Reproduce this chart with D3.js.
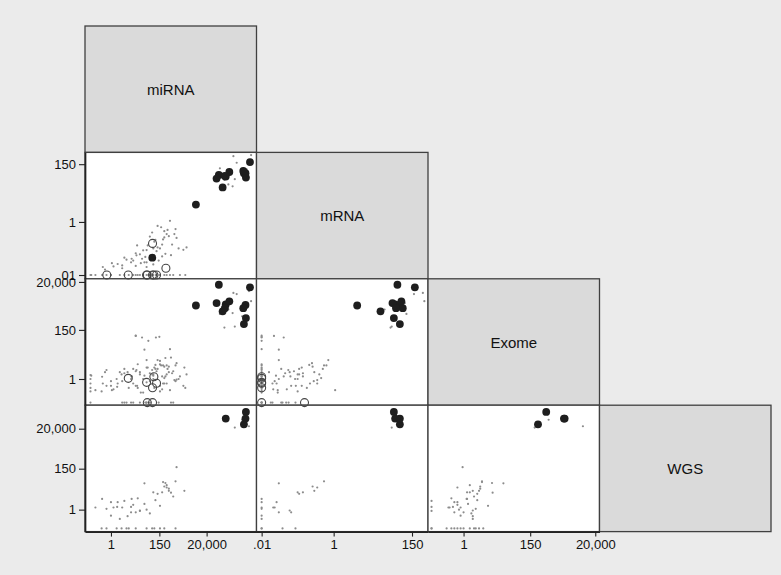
<!DOCTYPE html>
<html>
<head>
<meta charset="utf-8">
<script src="https://cdn.jsdelivr.net/npm/d3@7"></script>
<style>
  body { margin: 0; background: #ebebeb; }
  svg { display: block; font-family: "Liberation Sans", Arial, sans-serif; }
</style>
</head>
<body>
<div id="matrix"></div>
<script>
const width = 781, height = 575;
const margin = { left: 85, top: 26 };
const cellW = 171.5, cellH = 126.4;

const variables = ["miRNA", "mRNA", "Exome", "WGS"];
const domains = [[0.068, 3.5e6], [0.0072, 417], [0.069, 27500], [0.068, 355000]];
// zero counts are drawn at the bottom / left of each log axis
const zeroAt = [0.12, 0.01, 0.09, 0.1];
const tickValues = [[1, 150, 20000], [0.01, 1, 150], [1, 150, 20000], [1, 150, 20000]];

// each row: [miRNA, mRNA, Exome, WGS]; null = not measured, 0 = zero
const grayRows = [
  [2, 0.026, 0.63, 2.5], [1.3, 0.021, 0.35, 1.3], [3.2, 0.023, 0.8, 1.3], [8, 0.03, 1, 0.72],
  [20, 0.06, 2, 0.9], [13, 0.066, 0.5, 0.72], [80, 0.1, 1.6, 8.3], [125, 0.11, 2.8, 6.9],
  [200, 0.14, 1.3, 8.3], [250, 0.26, 3.5, 17], [400, 0.29, 2, 10], [320, 0.35, 0.63, 15],
  [800, 0.54, 4, 32], [32, 0.03, 20, 25], [5, 0.038, 0, 0], [40, 0.087, 0, 0],
  [0.4, 0, 1.26, 3.7], [1, 0, 0.5, 2.5], [105, 0, 69, null], [150, 0, 74, null],
  [13, 0, 83, null], [48, 0, 49, null], [450, 0, 21, null], [250, 0, 0.63, 0],
  [0.2, 0, 0.32, 1.3], [0.63, 0, 2.5, 1.1], [1, 0, 0.8, 0.48], [2.5, 0, 2, 0.32],
  [6.3, 0, 0.4, 0], [10, 0, 0, null], [20, 0, 1.6, null], [28, 0, 0.25, null],
  [40, 0, 3.2, null], [56, 0, 0, null], [80, 0, 1, null], [160, 0, 0.5, null],
  [320, 0, 4, null], [630, 0, 0, null], [1260, 0, 1.3, null], [2200, 0, 0.4, null],
  [16, 0, 4.5, null], [0.13, 0, 1.4, null], [4, 0, 2.8, null],
  [0.43, 0.02, 0.63, null], [0.54, 0.016, 2, null], [1.1, 0.028, 0.32, null], [8.5, 0.041, 1.3, null],
  [14, 0.055, 2.5, null], [15, 0.13, 0.5, null], [28, 0.085, 1, null], [35, 0.048, 0, null],
  [45, 0.13, 3.2, null], [56, 0.28, 0.8, null], [71, 0.4, 1.6, null], [89, 0.18, 0.4, null],
  [112, 0.079, 2.2, null], [140, 0.035, 0, null], [180, 0.63, 4, null], [220, 0.22, 0.63, null],
  [280, 0.063, 1.3, null], [350, 0.5, 2.8, null], [450, 1.1, 0.32, null], [560, 0.14, 1.8, null],
  [710, 0.35, 0.9, null], [890, 0.25, 5, null], [1100, 0.1, 1, null], [1800, 0.089, 0.5, null],
  [2500, 0.11, 1.6, null], [22, 0.028, 0.25, null], [40, 0.02, 0, null], [80, 0.025, 1.4, null],
  [125, 0.71, 6.9, null], [200, 0.05, 0.35, null], [13, 0.022, 81, null], [25, 0.041, 69, null],
  [40, 0.03, 6.9, null], [100, 0.21, 4.2, null], [3.2, 0.018, 0, null], [500, 0.056, 0, null],
  [160, 0.1, 0.28, null], [10, 0.035, 2.8, null], [250, 0.45, 1.1, null], [4, 0.045, 1.8, null],
  [0.38, null, 0.28, 0], [0.63, null, 0.5, 0], [1.8, null, 1, 0], [3, null, 1.6, 0],
  [13, null, 2.2, 0], [71, null, 2.5, 0], [89, null, 3.2, 0], [160, null, 4.4, 0],
  [800, null, 0.8, 0], [4, null, 0, 2.9], [8, null, 0, 1.4], [20, null, 0, 0.85],
  [1.9, null, 0.45, 1.4], [8.5, null, 1.3, 3.7], [32, null, 1.4, 2], [40, null, 0.71, 1],
  [56, null, 1.8, 0.63], [100, null, 2.8, 3.2], [220, null, 4, 29], [320, null, 1.6, 20],
  [890, null, 0.93, 180], [160, null, 6.3, 1.6], [500, null, 8.9, 8], [16, null, 0.4, 4],
  [5.6, null, 2, 0.45], [2000, null, 3.2, 10], [630, null, 2.2, 5], [400, null, 3.5, 13],
  [10, null, 0.63, 1.8], [280, null, 8.5, 26],
  [0, null, 1.5, null], [0, null, 1, null], [0, null, 0.63, null], [0, null, 0.4, null],
  [0, null, 0.28, null], [0, 0, 0, null],
  [320000, 300, 6500, null], [450000, 170, 5800, null], [1260000, 95, 2300, null],
  [295000, 22, 830, null], [190000, 26, 1200, null], [370000, 41, 210, 23000],
  [790000, null, 600, 60000], [1600000, null, 7900, 27000], [2000000, 330, 2800, null],
  [79000, 105, 760, null], [126000, 38, 190, null]
];

const filledRows = [
  [6600, 4.5, 1800, null], [1780000, 180, 11500, null], [71000, 59, 15000, null],
  [105000, 20, 1000, null], [1170000, 47, 500, 155000], [950000, 69, 270, 34000],
  [145000, 51, 2000, 69000], [1120000, 69, 1900, 69000], [56000, 43, 2300, null],
  [210000, 76, 2750, null], [890000, 83, 1380, null], [132000, 54, 1380, null],
  [72, 0.045, null, null]
];

const hollowRows = [
  [0.65, 0, null, null], [6, 0, 1.07, null], [40, 0, 0.71, null], [85, 0, 1.26, null],
  [112, 0, 0.65, null], [74, 0.155, 0, null], [295, 0.018, null, null], [43, 0, 0, null],
  [74, 0, 0.41, null]
];

const svg = d3.select("#matrix")
  .append("svg")
    .attr("width", width)
    .attr("height", height);

svg.append("rect")
  .attr("width", width)
  .attr("height", height)
  .attr("fill", "#ebebeb");

const xScales = domains.map((d, i) => d3.scaleLog()
  .domain(d)
  .range([margin.left + i * cellW, margin.left + (i + 1) * cellW]));
const yScales = domains.map((d, i) => d3.scaleLog()
  .domain(d)
  .range([margin.top + (i + 1) * cellH, margin.top + i * cellH]));

const val = (v, i) => v === 0 ? zeroAt[i] : v;
const fmt = v => v < 1 ? String(v).replace(/^0/, "") : d3.format(",")(v);

/* cells */
variables.forEach((name, r) => {
  for (let c = 0; c <= r; c++) {
    const x0 = xScales[c].range()[0], y0 = yScales[r].range()[1];
    svg.append("rect")
      .attr("x", x0).attr("y", y0)
      .attr("width", cellW).attr("height", cellH)
      .attr("fill", r === c ? "#dadada" : "#ffffff")
      .attr("stroke", "#404040")
      .attr("stroke-width", 1.3);
  }
  svg.append("text")
    .attr("x", xScales[r].range()[0] + cellW / 2)
    .attr("y", yScales[r].range()[1] + cellH / 2)
    .attr("text-anchor", "middle")
    .attr("dominant-baseline", "central")
    .attr("font-size", 15)
    .attr("fill", "#111")
    .text(name);
});

/* points */
const groups = [
  { rows: grayRows, draw: s => s.attr("r", 1.1).attr("fill", "#8c8c8c") },
  { rows: hollowRows, draw: s => s.attr("r", 4).attr("fill", "none").attr("stroke", "#444").attr("stroke-width", 1.1) },
  { rows: filledRows, draw: s => s.attr("r", 3.9).attr("fill", "#1e1e1e") }
];

groups.forEach(g => {
  for (let r = 1; r < variables.length; r++) {
    for (let c = 0; c < r; c++) {
      const pts = g.rows.filter(d => d[c] !== null && d[r] !== null);
      svg.append("g")
        .selectAll("circle")
        .data(pts)
        .join("circle")
          .attr("cx", d => xScales[c](val(d[c], c)))
          .attr("cy", d => yScales[r](val(d[r], r)))
          .call(g.draw);
    }
  }
});

/* axes */
const styleAxis = g => {
  g.select(".domain").attr("stroke", "#222").attr("stroke-width", 1.7);
  g.selectAll(".tick line").attr("stroke", "#222").attr("stroke-width", 1.1);
  g.selectAll(".tick text").attr("font-size", 13).attr("fill", "#111")
    .attr("font-family", "'Liberation Sans', Arial, sans-serif");
};

for (let r = 1; r < variables.length; r++) {
  svg.append("g")
    .attr("transform", `translate(${margin.left}, 0)`)
    .call(d3.axisLeft(yScales[r]).tickValues(tickValues[r]).tickFormat(fmt)
      .tickSize(6).tickSizeOuter(0).tickPadding(3))
    .call(styleAxis);
}

for (let c = 0; c < variables.length - 1; c++) {
  svg.append("g")
    .attr("transform", `translate(0, ${margin.top + 4 * cellH})`)
    .call(d3.axisBottom(xScales[c]).tickValues(tickValues[c]).tickFormat(fmt)
      .tickSize(5).tickSizeOuter(0).tickPadding(3))
    .call(styleAxis);
}
</script>
</body>
</html>
